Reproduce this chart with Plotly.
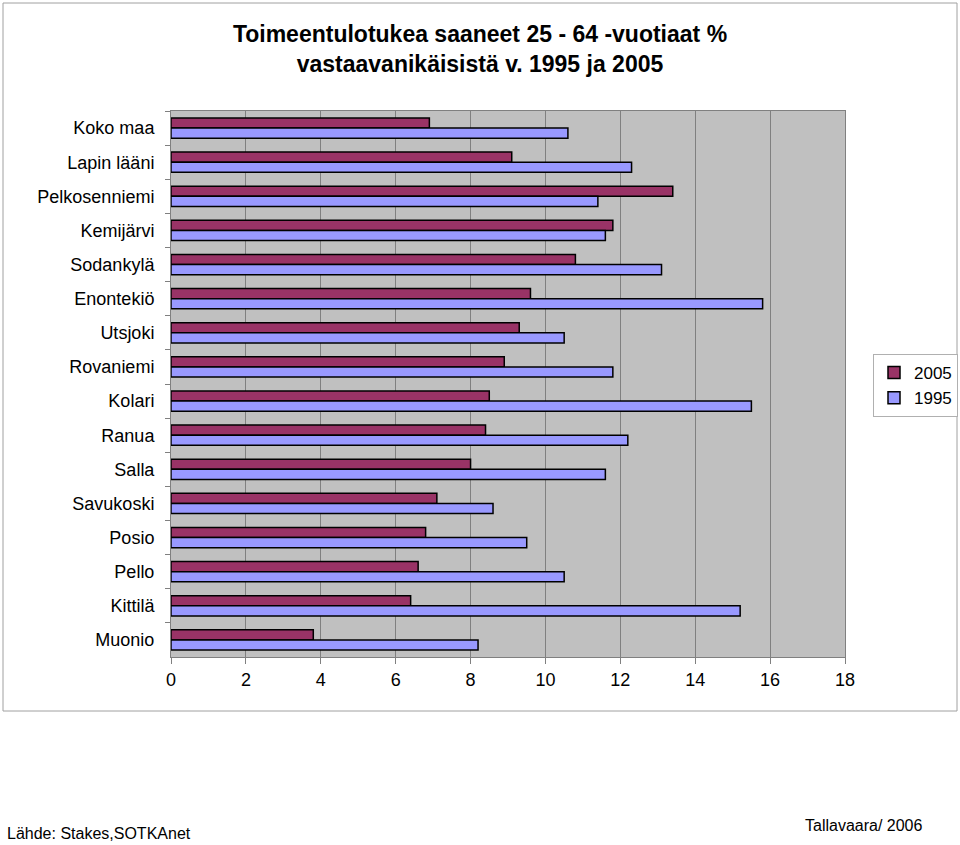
import plotly.graph_objects as go

categories = ["Koko maa", "Lapin lääni", "Pelkosenniemi", "Kemijärvi", "Sodankylä",
              "Enontekiö", "Utsjoki", "Rovaniemi", "Kolari", "Ranua", "Salla",
              "Savukoski", "Posio", "Pello", "Kittilä", "Muonio"]
values_2005 = [6.9, 9.1, 13.4, 11.8, 10.8, 9.6, 9.3, 8.9, 8.5, 8.4, 8.0, 7.1, 6.8, 6.6, 6.4, 3.8]
values_1995 = [10.6, 12.3, 11.4, 11.6, 13.1, 15.8, 10.5, 11.8, 15.5, 12.2, 11.6, 8.6, 9.5, 10.5, 15.2, 8.2]
x_ticks = [0, 2, 4, 6, 8, 10, 12, 14, 16, 18]

FONT = "Liberation Sans, Arial, sans-serif"

fig = go.Figure()
fig.add_trace(go.Bar(y=categories, x=values_2005, orientation="h", name="2005",
                     marker=dict(color="#993366", line=dict(color="#000000", width=1.5))))
fig.add_trace(go.Bar(y=categories, x=values_1995, orientation="h", name="1995",
                     marker=dict(color="#9999FF", line=dict(color="#000000", width=1.5))))

L, R, T, B = 171, 845, 111, 657
W, H = 960, 845
pw, ph = R - L, B - T

def px(x):
    return (x - L) / pw

def py(y):
    return (B - y) / ph

fig.update_layout(
    width=W, height=H,
    margin=dict(l=L, r=W - R, t=T, b=H - B, pad=0, autoexpand=False),
    paper_bgcolor="white",
    plot_bgcolor="#C0C0C0",
    barmode="group",
    bargap=0.41,
    bargroupgap=0,
    font=dict(family=FONT, size=18, color="black"),
    title=dict(
        text="<b>Toimeentulotukea saaneet 25 - 64 -vuotiaat %<br>vastaavanikäisistä v. 1995 ja 2005</b>",
        x=0.5, xref="container", xanchor="center",
        y=1 - 42 / H, yref="container", yanchor="middle",
        font=dict(family=FONT, size=23, color="black"),
    ),
    legend=dict(
        x=px(873), y=py(354), xanchor="left", yanchor="top",
        bgcolor="white", bordercolor="#B0B0B0", borderwidth=1,
        font=dict(family=FONT, size=17), traceorder="normal",
        itemwidth=30, tracegroupgap=0,
    ),
    xaxis=dict(
        range=[0, 18], tickvals=x_ticks, ticktext=[str(v) for v in x_ticks],
        showgrid=True, gridcolor="#808080", gridwidth=1,
        showline=True, linecolor="#808080", linewidth=1, mirror=True,
        ticks="outside", ticklen=6, tickcolor="#808080",
        zeroline=False, tickfont=dict(family=FONT, size=18),
    ),
    yaxis=dict(
        categoryorder="array", categoryarray=categories, autorange="reversed",
        showgrid=False, showline=True, linecolor="#808080", linewidth=1, mirror=True,
        ticks="outside", ticklen=5, tickcolor="#808080", tickson="boundaries",
        ticklabelstandoff=12, tickfont=dict(family=FONT, size=18),
    ),
    shapes=[dict(type="rect", xref="paper", yref="paper",
                 x0=px(3), x1=px(957), y0=py(711), y1=py(3),
                 line=dict(color="#A0A0A0", width=1), fillcolor="rgba(0,0,0,0)", layer="below")],
    annotations=[
        dict(text="Lähde: Stakes,SOTKAnet", xref="paper", yref="paper",
             x=px(5), y=py(833), xanchor="left", yanchor="middle", showarrow=False,
             font=dict(family=FONT, size=16)),
        dict(text="Tallavaara/ 2006", xref="paper", yref="paper",
             x=px(925), y=py(825), xanchor="right", yanchor="middle", showarrow=False,
             font=dict(family=FONT, size=16)),
    ],
)

fig.write_html("out.html")
